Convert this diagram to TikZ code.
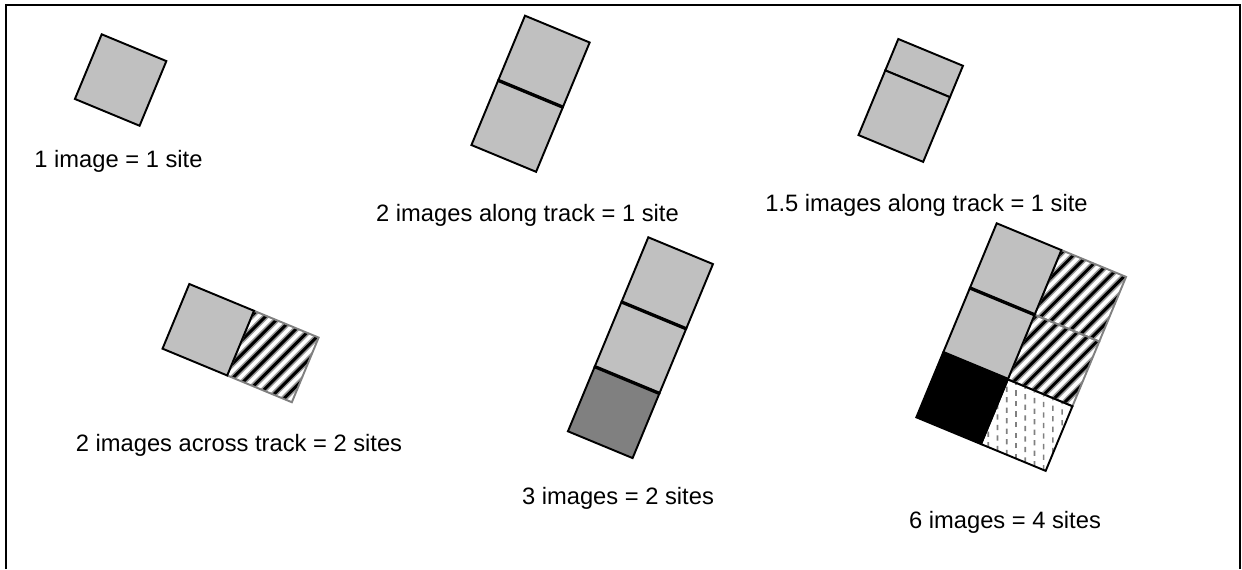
\documentclass[tikz,border=0pt]{standalone}
\usepackage{fontspec}
\setmainfont{Liberation Sans}
\usepackage{xcolor}
\usepackage{tikz}
\definecolor{lightg}{HTML}{C0C0C0}
\definecolor{darkg}{HTML}{808080}
\tikzset{
  cellbox/.style={draw=black, line width=1.1pt, fill=lightg},
  hatchbox/.style={draw=darkg, line width=1.1pt},
  seam/.style={draw=black, line width=1.9pt},
  stripe/.style={line width=1.7pt, preaction={draw=black!40, line width=3.5pt}},
  rain/.style={draw=darkg, line width=0.9pt, dash pattern=on 3pt off 3pt},
  caption/.style={font=\fontsize{13.5}{16}\selectfont, anchor=base, inner sep=0pt}
}
\newcommand{\GrayCell}[3][lightg]{%
  % #1 = fill, #2 = column, #3 = row (one cell is 70 units wide)
  \draw[cellbox, fill=#1] ({#2*70},{-#3*70}) rectangle ++(70,-70);
}
\newcommand{\StripeCell}[2]{%
  \begin{scope}
    \clip ({#1*70},{-#2*70}) rectangle ++(70,-70);
    \foreach \k in {-4,...,9}
      \draw[stripe] ({#1*70+\k*11-20},{-#2*70-80}) -- ++(67.5:115);
  \end{scope}
  \draw[hatchbox] ({#1*70},{-#2*70}) rectangle ++(70,-70);
}
\newcommand{\RainCell}[2]{%
  \begin{scope}
    \clip ({#1*70},{-#2*70}) rectangle ++(70,-70);
    \foreach \k in {0,...,11}
      \draw[rain] ({#1*70+\k*10+2},{-#2*70-80}) -- ++(112.5:110);
  \end{scope}
  \draw[cellbox, fill=none] ({#1*70},{-#2*70}) rectangle ++(70,-70);
}

\begin{document}
\begin{tikzpicture}[x=0.02cm, y=0.02cm, line join=miter]
  \useasboundingbox (0,0) rectangle (1242,569);
  \draw[line width=1.1pt] (6,0) -- (6,564) -- (1240,564) -- (1240,0);

  % 1 image
  \begin{scope}[shift={(101.7,534.7)}, rotate=-22.5]
    \GrayCell{0}{0}
  \end{scope}
  \node[caption] (one) at (118.5,401) {1 image = 1 site};

  % 2 images along track
  \begin{scope}[shift={(525,553.3)}, rotate=-22.5]
    \GrayCell{0}{0}
    \GrayCell{0}{1}
    \draw[seam] (0,-70) -- (70,-70);
  \end{scope}
  \node[caption] (two) at (527.5,347.5) {2 images along track = 1 site};

  % 1.5 images along track
  \begin{scope}[shift={(898.3,530)}, rotate=-22.5]
    \draw[cellbox] (0,0) rectangle (70,-34);
    \draw[cellbox] (0,-34) rectangle (70,-104);
  \end{scope}
  \node[caption] (onehalf) at (926.5,357.3) {1.5 images along track = 1 site};

  % 2 images across track
  \begin{scope}[shift={(189.3,285)}, rotate=-22.5]
    \StripeCell{1}{0}
    \GrayCell{0}{0}
  \end{scope}
  \node[caption] (across) at (239,117.3) {2 images across track = 2 sites};

  % 3 images
  \begin{scope}[shift={(648.3,331.7)}, rotate=-22.5]
    \GrayCell{0}{0}
    \GrayCell{0}{1}
    \GrayCell[darkg]{0}{2}
    \draw[seam] (0,-70) -- (70,-70);
    \draw[seam] (0,-140) -- (70,-140);
  \end{scope}
  \node[caption] (three) at (618,65) {3 images = 2 sites};

  % 6 images
  \begin{scope}[shift={(996.7,345.7)}, rotate=-22.5]
    \StripeCell{1}{0}
    \StripeCell{1}{1}
    \RainCell{1}{2}
    \GrayCell{0}{0}
    \GrayCell{0}{1}
    \GrayCell[black]{0}{2}
    \draw[seam] (0,-70) -- (70,-70);
    \draw[seam] (0,-140) -- (70,-140);
  \end{scope}
  \node[caption] (six) at (1005,40.7) {6 images = 4 sites};
\end{tikzpicture}
\end{document}
